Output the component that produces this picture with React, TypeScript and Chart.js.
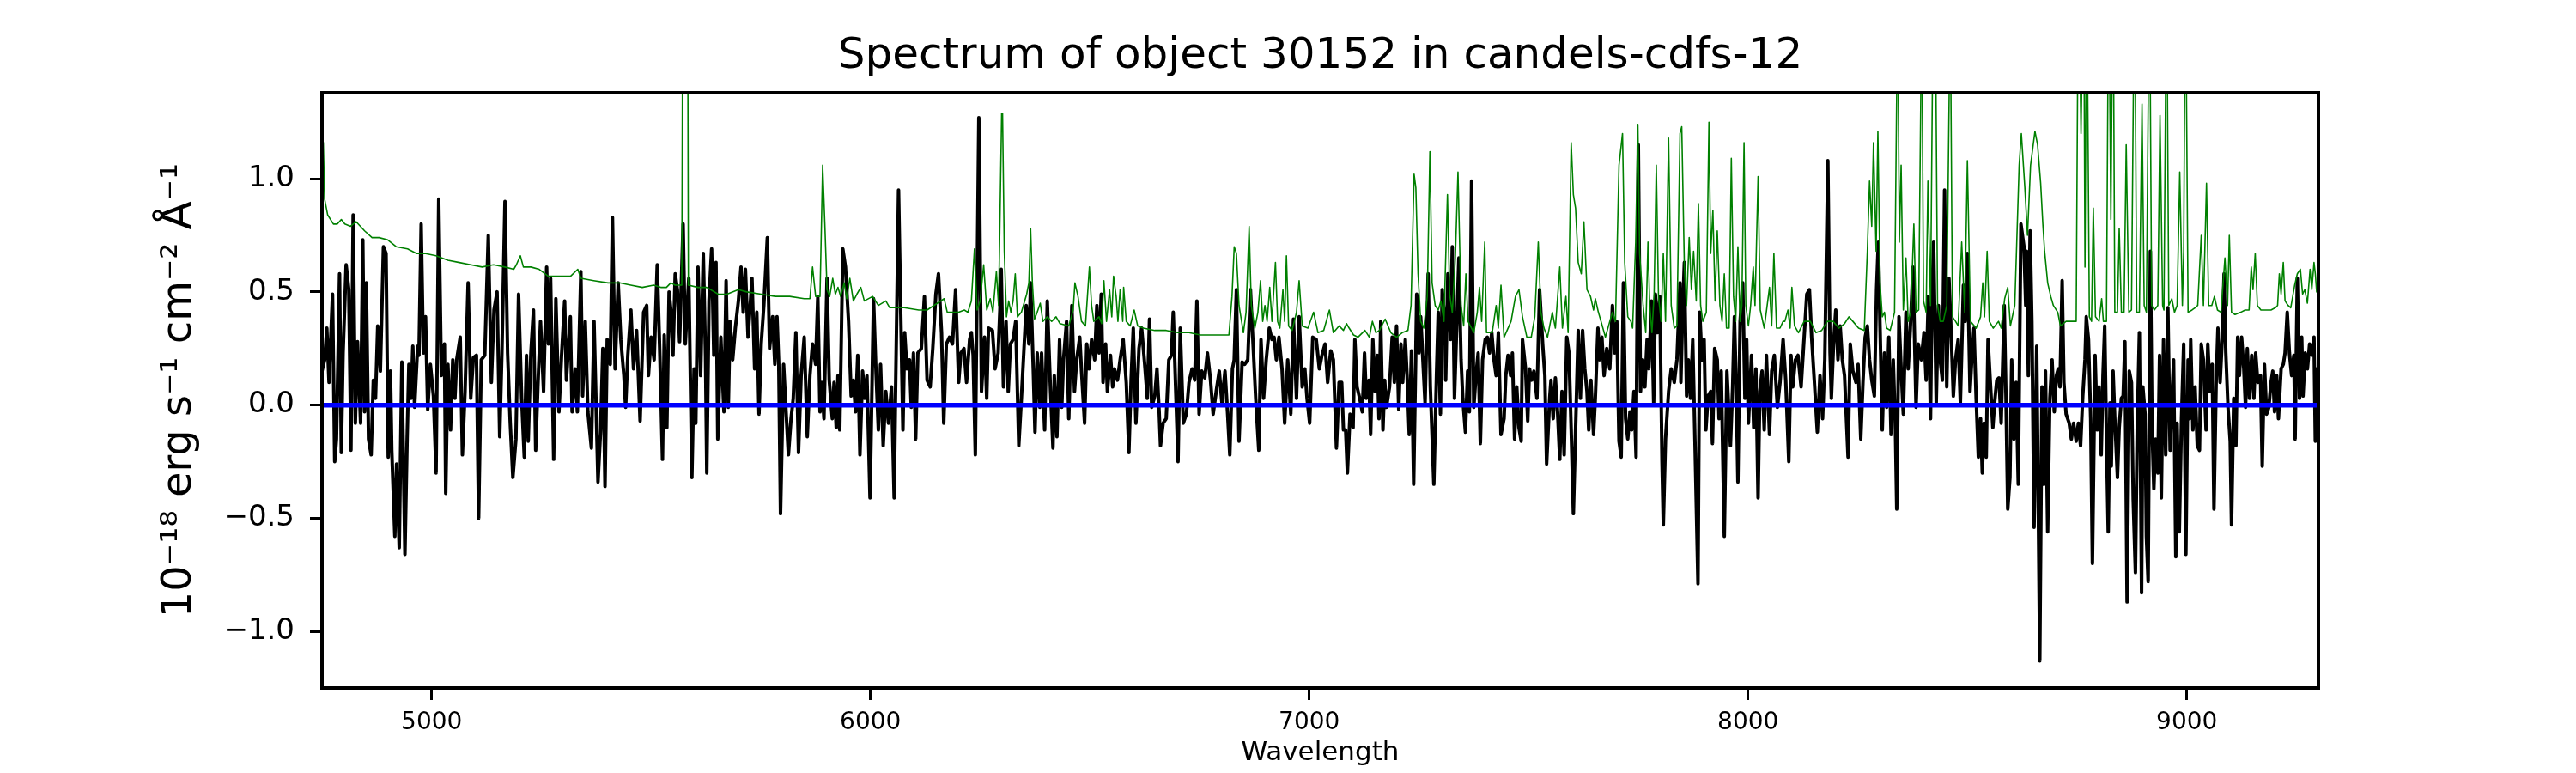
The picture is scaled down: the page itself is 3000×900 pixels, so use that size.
import React, { useEffect, useRef } from "react";
import { Chart, registerables } from "chart.js";

Chart.register(...registerables);

const FONT = '"DejaVu Sans", sans-serif';

const TITLE = "Spectrum of object 30152 in candels-cdfs-12";
const X_LABEL = "Wavelength";
const Y_LABEL = "10\u207B\u00B9\u2078 erg s\u207B\u00B9 cm\u207B\u00B2 \u00C5\u207B\u00B9";

const X_TICKS = [5000, 6000, 7000, 8000, 9000];
const Y_TICKS = [-1.0, -0.5, 0.0, 0.5, 1.0];
const X_RANGE = [4750, 9300];
const Y_RANGE = [-1.25, 1.38];

const ZERO_LINE: [number, number][] = [[4750, 0], [9300, 0]];

// observed flux (black)
const FLUX: [number, number][] = [
  [4750,0.15],[4756,0.20],[4761,0.34],[4766,0.10],[4774,0.49],[4779,-0.25],[4783,-0.15],[4790,0.58],[4794,-0.21],[4798,0.23],
  [4805,0.62],[4811,0.51],[4816,-0.20],[4821,0.84],[4826,-0.08],[4831,0.28],[4838,-0.08],[4843,0.73],[4847,-0.03],[4851,0.54],
  [4856,-0.15],[4862,-0.22],[4867,0.11],[4872,0.03],[4877,0.35],[4883,0.15],[4890,0.70],[4896,0.67],[4901,-0.23],[4906,0.15],
  [4909,-0.20],[4916,-0.58],[4920,-0.26],[4926,-0.63],[4932,0.19],[4939,-0.66],[4944,-0.15],[4948,0.18],[4953,0.03],[4957,0.26],
  [4961,-0.01],[4968,0.26],[4971,0.22],[4976,0.80],[4981,0.23],[4986,0.39],[4991,-0.02],[4997,0.18],[5004,0.04],[5010,-0.30],
  [5016,0.91],[5022,0.13],[5029,0.27],[5032,-0.39],[5037,0.18],[5043,-0.11],[5048,0.20],[5053,0.03],[5057,0.20],[5065,0.30],
  [5070,-0.22],[5076,0.06],[5083,0.54],[5089,0.03],[5095,0.21],[5102,0.22],[5107,-0.50],[5113,0.20],[5121,0.22],[5129,0.75],
  [5136,0.10],[5142,0.42],[5149,0.50],[5155,-0.14],[5160,0.23],[5167,0.90],[5173,0.23],[5179,-0.08],[5185,-0.32],[5192,-0.15],
  [5198,0.49],[5205,0.03],[5211,-0.23],[5216,0.22],[5220,-0.16],[5226,0.23],[5232,0.42],[5237,-0.20],[5242,0.08],[5248,0.37],
  [5255,0.06],[5262,0.61],[5266,0.27],[5271,0.56],[5278,-0.24],[5283,0.47],[5290,-0.03],[5296,0.22],[5303,0.46],[5307,0.11],
  [5316,0.39],[5320,-0.03],[5327,0.16],[5332,-0.03],[5340,0.59],[5344,0.04],[5350,0.37],[5356,-0.03],[5364,-0.19],[5370,0.37],
  [5379,-0.34],[5385,-0.11],[5390,0.25],[5395,-0.36],[5400,0.29],[5407,0.18],[5412,0.83],[5418,0.16],[5425,0.54],[5431,0.29],
  [5438,0.13],[5442,-0.01],[5447,0.22],[5454,0.42],[5460,0.16],[5467,0.33],[5475,-0.07],[5483,0.41],[5490,0.44],[5494,0.13],
  [5500,0.30],[5507,0.20],[5514,0.62],[5520,0.22],[5526,-0.24],
  [5530,0.31],[5536,-0.10],[5541,0.50],[5545,0.42],[5550,0.22],[5555,0.58],[5560,0.51],[5565,0.28],[5573,0.80],[5578,0.27],
  [5586,0.56],[5593,-0.32],[5598,0.16],[5602,-0.08],[5607,0.61],[5613,0.13],[5619,0.67],[5624,0.22],[5627,-0.30],[5632,0.46],
  [5638,0.69],[5643,0.22],[5648,0.63],[5652,-0.15],[5659,0.30],[5666,-0.03],[5671,0.55],[5676,-0.01],[5680,0.37],[5686,0.20],
  [5692,0.34],[5699,0.46],[5705,0.61],[5710,0.41],[5715,0.60],[5721,0.30],[5730,0.56],[5736,0.16],[5741,0.41],[5746,-0.04],
  [5751,0.27],[5757,0.44],[5765,0.74],[5770,0.25],[5777,0.39],[5782,0.18],[5787,0.39],[5791,0.18],[5795,-0.48],[5802,0.18],
  [5806,0.03],[5813,-0.22],[5819,-0.06],[5824,0.03],[5830,0.32],[5836,-0.21],[5842,0.13],[5849,0.30],[5856,-0.14],[5862,0.13],
  [5868,0.27],[5875,0.18],[5880,0.48],[5885,-0.03],[5889,0.10],[5894,-0.06],[5901,0.56],[5906,0.11],[5913,-0.06],[5917,0.10],
  [5922,-0.10],[5926,0.13],[5930,-0.11],[5937,0.69],[5943,0.61],[5950,0.37],[5956,0.04],[5961,0.11],[5966,-0.03],[5971,0.22],
  [5976,-0.22],[5982,0.15],[5987,0.03],[5992,0.13],[5999,-0.41],[6007,0.47],[6012,0.18],[6018,-0.11],[6023,0.18],[6029,-0.18],
  [6035,0.06],[6041,-0.08],[6048,0.08],[6054,-0.41],[6057,0.03],[6064,0.95],[6069,0.41],[6074,-0.11],[6078,0.32],[6083,0.16],
  [6089,0.20],[6093,-0.01],[6098,0.23],[6103,-0.15],[6108,0.23],[6116,0.25],[6123,0.48],[6129,0.11],[6136,0.08],[6142,0.25],
  [6149,0.49],[6155,0.58],[6162,0.32],[6167,-0.08],[6173,0.27],[6180,0.30],[6187,0.27],[6194,0.51],[6201,0.10],[6206,0.23],
  [6213,0.25],[6219,0.10],[6226,0.29],[6230,0.32],[6234,0.22],[6239,-0.22],[6247,1.27],[6253,0.06],[6260,0.30],[6265,0.03],
  [6269,0.34],[6278,0.33],[6284,0.16],[6291,0.23],[6295,0.42],
  [6298,0.60],[6303,0.08],[6309,0.37],[6314,0.06],[6319,0.27],[6325,0.29],[6331,0.37],[6338,-0.18],[6344,0.03],[6351,0.29],
  [6355,0.44],[6361,0.27],[6365,0.54],[6371,0.16],[6375,-0.12],[6380,0.23],[6386,-0.01],[6390,0.23],[6397,-0.11],[6403,0.46],
  [6410,0.08],[6416,-0.19],[6419,0.13],[6425,-0.14],[6431,0.29],[6436,-0.01],[6440,0.20],[6447,0.37],[6452,-0.06],[6459,0.44],
  [6465,0.06],[6470,0.20],[6477,0.30],[6481,0.15],[6488,-0.08],[6493,0.27],[6498,0.16],[6504,0.29],[6511,0.20],[6516,0.44],
  [6521,0.23],[6526,0.49],[6530,0.10],[6536,0.27],[6540,0.06],[6547,0.22],[6552,0.08],[6556,0.16],[6563,0.11],[6569,0.20],
  [6576,0.29],[6583,0.10],[6589,-0.21],[6594,0.11],[6599,0.34],[6605,-0.08],[6612,0.25],[6618,0.34],[6625,0.18],[6631,0.03],
  [6636,0.38],[6641,-0.01],[6648,0.04],[6653,0.16],[6658,-0.03],[6661,-0.18],[6667,-0.08],[6674,-0.06],[6680,0.20],[6686,0.22],
  [6690,0.41],[6695,0.11],[6701,-0.25],[6706,0.34],[6713,-0.08],[6720,-0.04],[6726,0.10],[6733,0.16],[6739,0.11],[6744,0.46],
  [6749,-0.04],[6755,0.15],[6762,0.12],[6768,0.23],[6775,0.11],[6781,-0.04],[6788,0.06],[6795,0.15],[6801,0.01],[6808,0.15],
  [6814,-0.04],[6819,-0.22],[6825,0.16],[6829,0.20],[6834,0.51],[6840,-0.16],[6847,0.19],[6853,0.18],[6860,0.20],[6866,0.51],
  [6873,0.23],[6878,0.03],[6885,-0.20],[6890,0.29],[6896,0.03],[6902,0.20],[6909,0.34],[6915,0.29],[6920,0.30],[6925,0.20],
  [6931,0.30],[6938,0.16],[6944,-0.08],[6951,0.20],[6958,-0.04],[6964,0.38],[6971,0.03],[6977,0.39],[6984,0.08],[6990,0.16],
  [6995,0.03],[7001,-0.08],[7008,0.30],[7016,0.29],[7023,0.16],[7029,0.22],[7036,0.27],[7042,0.10],[7049,0.24],[7055,0.20],
  [7062,-0.19],[7068,0.10],
  [7074,0.10],[7078,-0.11],[7083,-0.11],[7087,-0.30],[7093,-0.04],[7100,-0.10],[7104,0.29],[7109,0.08],[7115,0.03],[7121,-0.03],
  [7126,0.23],[7130,0.03],[7136,0.11],[7140,-0.13],[7145,0.29],[7150,0.06],[7155,0.22],[7159,-0.06],[7163,0.37],[7168,-0.11],
  [7172,0.11],[7176,-0.01],[7183,0.08],[7189,0.30],[7194,0.10],[7199,0.35],[7204,-0.02],[7209,0.27],[7213,0.10],[7219,0.29],
  [7223,0.13],[7228,-0.13],[7233,0.24],[7238,-0.35],[7245,0.49],[7250,0.23],[7254,0.39],[7259,0.20],[7264,0.01],[7271,0.58],
  [7276,0.08],[7284,-0.35],[7290,0.13],[7294,0.41],[7299,-0.04],[7303,0.51],[7309,0.37],[7311,0.11],[7316,0.58],[7322,0.29],
  [7326,0.70],[7331,0.03],[7336,0.34],[7341,0.65],[7346,0.20],[7350,0.03],[7356,-0.12],[7361,0.15],[7365,-0.03],[7370,0.99],
  [7375,-0.01],[7380,0.13],[7385,0.23],[7390,-0.17],[7395,0.20],[7401,0.29],[7406,0.30],[7411,0.23],[7416,0.32],[7421,0.20],
  [7426,0.13],[7431,0.32],[7437,-0.13],[7444,-0.06],[7448,0.13],[7453,0.22],[7459,0.13],[7463,0.23],[7468,-0.15],[7473,0.08],
  [7478,-0.10],[7483,-0.16],[7486,0.29],[7493,0.16],[7498,-0.07],[7502,0.16],[7507,0.11],[7512,0.15],[7519,0.03],[7525,0.51],
  [7532,0.27],[7537,0.13],[7541,-0.26],[7548,0.03],[7551,0.11],[7556,-0.06],[7561,0.12],[7566,-0.03],[7571,-0.24],[7576,0.06],
  [7581,-0.22],[7587,0.30],[7592,0.23],[7597,-0.11],[7602,-0.48],[7607,-0.11],[7613,0.33],[7618,0.03],[7623,0.33],[7628,0.16],
  [7633,0.06],[7637,-0.11],[7642,0.11],[7648,-0.13],[7652,0.03],[7658,0.34],[7662,0.20],[7667,0.30],[7672,0.13],[7678,0.25],
  [7685,0.16],[7691,0.44],[7696,0.23],[7701,0.37],[7706,-0.16],[7711,-0.23],[7716,0.54],[7721,-0.06],[7726,-0.15],[7731,-0.03],
  [7735,-0.11],[7740,0.06],[7745,-0.23],[7750,1.15],[7755,0.06],[7760,0.20],[7765,0.08],[7770,0.29],[7774,0.16],[7780,0.46],
  [7785,0.01],[7789,0.49],[7794,0.32],[7799,0.48],[7804,-0.25],[7807,-0.53],[7812,-0.15],[7819,0.06],[7825,0.16],[7832,0.10],
  [7838,0.20],[7845,0.54],
  [7847,0.10],[7851,0.41],[7855,0.63],[7860,0.04],[7864,0.20],[7869,0.03],[7874,0.29],[7879,-0.15],[7886,-0.79],[7890,0.41],
  [7895,0.20],[7900,0.29],[7904,-0.11],[7909,0.04],[7915,0.06],[7919,-0.17],[7924,0.25],[7930,0.20],[7934,-0.06],[7939,0.15],
  [7946,-0.58],[7952,0.15],[7960,-0.18],[7965,0.08],[7969,0.39],[7973,0.10],[7977,-0.34],[7982,0.37],[7988,0.54],[7993,0.03],
  [7997,0.29],[8001,-0.08],[8008,0.22],[8013,-0.10],[8018,0.16],[8023,-0.41],[8027,0.06],[8032,0.15],[8037,-0.11],[8042,0.22],
  [8049,-0.13],[8054,0.15],[8060,0.22],[8067,-0.01],[8073,0.10],[8080,0.29],[8086,0.11],[8093,-0.25],[8098,0.22],[8102,0.08],
  [8108,0.20],[8114,0.22],[8121,0.08],[8127,0.27],[8134,0.49],[8140,0.51],[8145,0.30],[8151,0.11],[8158,-0.12],[8164,0.13],
  [8170,-0.06],[8175,0.20],[8182,1.08],[8187,0.23],[8190,0.03],[8195,0.27],[8200,0.42],[8205,0.20],[8210,0.35],[8215,0.20],
  [8220,0.13],[8228,-0.23],[8233,0.27],[8239,0.15],[8246,0.10],[8251,0.18],[8257,-0.15],[8262,0.10],[8267,0.30],[8272,0.35],
  [8277,0.20],[8282,0.11],[8288,0.04],[8293,0.51],[8297,0.72],[8301,0.34],[8306,-0.11],[8311,0.23],[8316,-0.01],[8321,0.30],
  [8326,-0.13],[8331,0.20],[8336,-0.11],[8339,-0.46],[8344,0.39],[8349,0.16],[8354,-0.04],[8360,0.41],[8365,0.16],[8370,0.34],
  [8376,0.61],[8383,-0.01],[8388,0.27],[8395,0.20],[8401,0.32],[8406,0.11],[8411,0.48],[8416,-0.06],[8419,0.44],[8423,0.72],
  [8429,0.01],[8434,0.44],[8438,0.20],[8443,0.11],[8448,0.95],[8453,0.08],[8458,0.56],[8462,0.37],[8468,0.04],[8473,0.20],
  [8479,0.29],[8484,0.01],[8491,0.53],[8495,0.37],[8500,0.67],[8506,0.06],[8510,0.20],[8515,0.34],[8520,0.03],[8525,-0.23],
  [8530,-0.06],[8534,-0.30],[8538,-0.08],[8543,-0.23],[8547,0.29],[8552,0.11],[8558,-0.10],[8562,0.01],[8567,0.11],[8572,0.12],
  [8577,-0.08],[8584,0.44],[8588,0.03],[8592,-0.46],[8597,-0.32],[8601,0.20],[8606,-0.15],[8611,0.10],[8616,-0.35],[8622,0.80],
  [8629,0.70],[8633,0.44],[8635,0.68],[8639,0.13],[8643,0.77],[8647,0.37],[8652,-0.54],[8658,0.26],[8661,-0.32],[8665,-1.13],
  [8670,0.08],[8675,-0.35],[8678,0.15],[8683,-0.56],[8688,0.03],[8693,0.20],[8698,-0.03],[8703,0.13],[8707,0.16],[8711,0.08],
  [8716,0.55],[8720,0.10],[8725,-0.04],[8732,-0.08],[8737,-0.15],[8742,-0.08],[8748,-0.16],[8753,-0.08],[8758,-0.18],[8763,0.04],
  [8768,0.20],[8771,0.39],[8776,0.29],[8781,-0.06],[8785,-0.70],[8791,0.22],[8796,-0.11],[8800,0.08],[8805,-0.22],[8809,0.13],
  [8813,0.35],[8817,-0.15],[8821,-0.56],[8825,0.01],[8828,-0.27],[8832,0.15],[8836,-0.06],[8842,-0.32],[8846,-0.10],[8851,0.03],
  [8855,0.04],[8859,0.28],[8864,-0.87],[8869,0.15],[8874,0.10],[8878,-0.42],[8883,-0.74],[8887,-0.11],[8892,0.32],[8897,-0.83],
  [8900,0.08],[8905,-0.04],[8908,-0.58],[8912,-0.78],[8917,0.68],[8921,-0.11],[8925,-0.37],[8929,-0.15],[8934,-0.30],[8938,0.22],
  [8942,-0.41],[8947,0.29],[8952,-0.22],[8957,0.43],[8962,-0.20],[8967,0.06],[8970,0.20],[8975,-0.67],[8978,-0.08],[8983,-0.56],
  [8988,-0.06],[8993,0.27],[8998,-0.66],[9003,0.20],[9006,-0.06],[9009,0.29],[9014,-0.11],[9019,0.08],[9024,-0.18],[9029,-0.20],
  [9033,0.27],[9038,0.20],[9044,-0.11],[9048,0.27],[9053,0.06],[9058,0.18],[9062,-0.46],[9067,0.10],[9071,0.34],[9076,0.10],
  [9081,0.30],[9085,0.58],[9089,0.23],[9094,-0.01],[9099,-0.16],[9102,-0.53],[9107,0.03],[9112,-0.18],[9116,0.30],[9120,0.13],
  [9125,0.30],[9130,0.16],[9134,-0.01],[9138,0.25],[9143,0.03],[9148,0.22],[9153,0.03],[9157,0.23],[9162,0.10],[9168,0.13],
  [9172,-0.27],[9177,0.18],[9182,-0.04],[9187,-0.01],[9192,0.10],[9196,0.15],[9200,-0.03],[9205,0.13],[9209,-0.06],[9215,0.16],
  [9220,0.18],[9224,0.23],[9229,0.41],[9234,0.23],[9239,0.13],[9244,0.22],[9247,-0.15],[9252,0.56],[9257,0.03],[9262,0.30],
  [9265,0.04],[9270,0.23],[9275,0.16],[9280,0.27],[9285,0.22],[9290,0.30],[9293,-0.16],[9296,0.16],[9300,-0.17],
];

// noise / error spectrum (green)
const NOISE: [number, number][] = [
  [4750,1.17],[4753,1.16],[4756,0.91],[4763,0.84],[4776,0.80],[4785,0.80],[4794,0.82],[4802,0.80],[4815,0.79],[4828,0.81],
  [4847,0.77],[4864,0.74],[4880,0.74],[4900,0.73],[4919,0.70],[4945,0.69],[4965,0.67],[4984,0.67],[5010,0.66],[5037,0.64],
  [5063,0.63],[5089,0.62],[5115,0.61],[5141,0.62],[5167,0.61],[5187,0.60],[5193,0.62],[5202,0.66],[5209,0.61],[5226,0.61],
  [5245,0.60],[5265,0.57],[5291,0.57],[5317,0.57],[5333,0.60],[5340,0.56],[5369,0.55],[5402,0.54],[5428,0.54],[5454,0.53],
  [5480,0.52],[5506,0.53],[5522,0.52],[5535,0.52],[5545,0.54],[5555,0.53],[5570,0.53],[5574,3.0],[5582,3.0],[5585,0.53],
  [5607,0.52],[5627,0.52],[5653,0.49],[5673,0.49],[5699,0.51],[5718,0.50],[5751,0.49],[5783,0.48],[5816,0.48],[5849,0.47],
  [5862,0.47],[5868,0.61],[5875,0.48],[5885,0.48],[5891,1.06],[5896,0.80],[5901,0.51],[5907,0.48],[5914,0.56],[5920,0.49],
  [5926,0.52],[5932,0.48],[5940,0.54],[5946,0.47],[5953,0.56],[5961,0.46],[5969,0.49],[5978,0.52],[5986,0.46],[6005,0.48],
  [6018,0.44],[6035,0.46],[6044,0.43],[6077,0.43],[6110,0.42],[6129,0.42],[6168,0.47],[6175,0.41],[6201,0.41],[6214,0.42],
  [6222,0.41],[6230,0.46],[6237,0.69],[6243,0.42],[6250,0.46],[6258,0.62],[6265,0.42],[6273,0.47],[6279,0.41],[6287,0.59],
  [6292,0.44],[6299,1.29],[6301,1.29],[6305,0.68],[6310,0.39],[6315,0.46],[6320,0.41],[6325,0.46],[6330,0.58],[6335,0.39],
  [6344,0.41],[6356,0.49],[6361,0.54],[6365,0.78],[6369,0.54],[6374,0.38],[6380,0.41],[6387,0.45],[6393,0.37],[6403,0.39],
  [6413,0.37],[6423,0.39],[6432,0.36],[6452,0.35],[6462,0.42],[6466,0.54],[6473,0.48],[6481,0.37],[6490,0.35],[6499,0.61],
  [6504,0.44],[6509,0.37],[6521,0.39],[6527,0.36],[6532,0.55],[6538,0.37],[6545,0.51],[6550,0.39],[6554,0.57],[6560,0.48],
  [6564,0.37],[6569,0.51],[6575,0.37],[6577,0.52],[6583,0.37],[6592,0.35],[6601,0.42],[6609,0.35],[6622,0.34],[6648,0.33],
  [6674,0.33],[6700,0.32],[6726,0.32],[6752,0.31],[6785,0.31],[6817,0.31],[6824,0.48],[6829,0.70],[6834,0.67],[6840,0.44],
  [6850,0.32],[6856,0.41],[6863,0.79],[6868,0.44],[6876,0.34],[6883,0.41],[6889,0.55],[6894,0.37],[6899,0.44],[6904,0.37],
  [6910,0.52],[6915,0.37],[6923,0.63],[6928,0.37],[6933,0.34],[6940,0.51],[6944,0.37],[6948,0.66],[6953,0.35],[6961,0.33],
  [6971,0.41],[6977,0.55],[6984,0.35],[6997,0.34],[7010,0.41],[7020,0.32],[7033,0.33],[7046,0.42],[7055,0.32],[7068,0.35],
  [7078,0.33],[7085,0.36],[7091,0.34],[7101,0.31],[7111,0.30],[7127,0.33],[7137,0.30],[7144,0.37],[7152,0.32],[7160,0.33],
  [7173,0.38],[7186,0.32],[7199,0.30],[7212,0.32],[7225,0.33],[7232,0.44],[7239,1.02],[7243,0.96],[7248,0.58],[7254,0.37],
  [7261,0.34],[7269,0.48],[7275,1.12],[7280,0.54],[7287,0.44],[7294,0.42],[7300,0.46],[7307,0.37],[7315,0.93],[7320,0.49],
  [7326,0.41],[7333,0.65],[7339,1.03],[7346,0.44],[7352,0.35],[7357,0.58],[7362,0.37],[7375,0.32],[7383,0.41],[7388,0.52],
  [7393,0.37],[7400,0.72],[7404,0.32],[7417,0.32],[7426,0.44],[7431,0.34],[7437,0.53],[7444,0.30],[7460,0.37],[7470,0.48],
  [7478,0.51],[7486,0.39],[7496,0.30],[7506,0.30],[7514,0.39],[7522,0.72],[7528,0.41],[7535,0.34],[7543,0.30],[7554,0.41],
  [7561,0.34],[7571,0.61],[7577,0.34],[7585,0.48],[7590,0.32],[7597,1.16],[7602,0.93],[7607,0.87],[7613,0.63],[7620,0.58],
  [7626,0.81],[7633,0.51],[7641,0.48],[7648,0.42],[7652,0.47],[7659,0.41],[7665,0.37],[7675,0.30],[7685,0.37],[7691,0.41],
  [7698,0.37],[7706,1.06],[7714,1.20],[7719,0.63],[7726,0.39],[7733,0.37],[7737,0.34],[7744,0.72],[7749,1.24],[7753,0.67],
  [7761,0.44],[7767,0.32],[7772,0.72],[7776,0.44],[7781,0.32],[7786,0.49],[7791,1.06],[7796,0.48],[7802,0.37],[7807,0.67],
  [7812,0.37],[7819,1.18],[7825,0.44],[7832,0.34],[7838,0.35],[7845,1.20],[7849,1.23],[7855,0.61],[7860,0.44],[7866,0.74],
  [7871,0.51],[7876,0.68],[7882,0.46],[7887,0.89],[7892,0.44],[7897,0.37],[7905,0.41],[7911,1.25],[7915,0.67],[7920,0.86],
  [7925,0.46],[7930,0.77],[7936,0.44],[7941,0.37],[7946,0.58],[7951,0.34],[7957,0.34],[7962,1.09],[7967,0.48],[7972,0.37],
  [7977,0.70],[7982,0.37],[7986,0.44],[7991,1.16],[7995,0.44],[8001,0.35],[8006,0.44],[8012,0.61],[8016,0.44],[8023,1.01],
  [8028,0.42],[8037,0.34],[8049,0.52],[8054,0.35],[8059,0.67],[8065,0.34],[8073,0.34],[8080,0.37],[8084,0.37],[8091,0.42],
  [8096,0.34],[8100,0.52],[8106,0.35],[8115,0.32],[8128,0.37],[8142,0.37],[8155,0.32],[8168,0.33],[8181,0.37],[8194,0.37],
  [8207,0.34],[8220,0.36],[8230,0.39],[8239,0.37],[8252,0.34],[8265,0.33],[8272,0.68],[8277,0.99],[8282,0.79],[8286,1.16],
  [8292,0.68],[8296,1.21],[8301,0.54],[8306,0.39],[8311,0.41],[8316,0.34],[8324,0.33],[8334,0.41],[8341,1.8],[8345,0.72],
  [8349,1.06],[8354,0.42],[8360,0.65],[8365,0.37],[8371,0.41],[8378,0.80],[8383,0.41],[8389,0.42],[8396,1.8],[8400,0.46],
  [8406,0.41],[8410,0.99],[8416,0.44],[8422,1.8],[8427,1.8],[8432,0.44],[8438,0.37],[8445,0.37],[8453,0.44],[8461,1.8],
  [8466,0.39],[8473,0.37],[8479,0.35],[8487,0.72],[8494,0.41],[8500,1.08],[8507,0.37],[8520,0.34],[8530,0.39],[8535,0.54],
  [8539,0.39],[8545,0.68],[8550,0.37],[8559,0.34],[8571,0.37],[8577,0.34],[8585,0.47],[8592,0.52],[8598,0.35],[8608,0.44],
  [8618,1.06],[8623,1.20],[8631,0.96],[8637,0.75],[8644,1.06],[8654,1.21],[8660,1.15],[8667,0.98],[8672,0.80],[8676,0.68],
  [8683,0.54],[8690,0.48],[8696,0.44],[8706,0.41],[8712,0.35],[8725,0.37],[8738,0.37],[8748,0.37],[8753,2.0],[8759,1.20],
  [8765,2.0],[8768,0.61],[8772,2.0],[8778,0.39],[8783,0.37],[8787,0.87],[8792,0.39],[8800,0.37],[8806,0.47],[8810,0.37],
  [8817,0.37],[8822,2.0],[8827,0.82],[8832,2.0],[8836,0.41],[8842,0.41],[8846,0.78],[8851,0.41],[8857,0.41],[8862,1.15],
  [8868,0.41],[8874,0.42],[8881,2.0],[8886,0.41],[8892,0.41],[8898,1.33],[8903,0.44],[8908,0.41],[8915,2.0],[8920,0.44],
  [8926,0.42],[8934,0.44],[8939,1.28],[8945,0.44],[8948,0.42],[8954,2.0],[8959,0.44],[8966,0.47],[8972,0.41],[8978,0.44],
  [8984,1.03],[8990,0.44],[8993,0.68],[8997,2.0],[9003,0.41],[9012,0.42],[9019,0.43],[9025,0.44],[9033,0.75],[9038,0.44],
  [9045,0.98],[9050,0.44],[9057,0.44],[9063,0.48],[9070,0.42],[9078,0.41],[9087,0.65],[9093,0.44],[9097,0.75],[9102,0.41],
  [9110,0.40],[9123,0.41],[9133,0.42],[9142,0.42],[9147,0.61],[9151,0.51],[9156,0.67],[9161,0.44],[9169,0.42],[9182,0.42],
  [9192,0.42],[9202,0.43],[9207,0.44],[9211,0.58],[9215,0.49],[9220,0.63],[9224,0.46],[9231,0.44],[9237,0.43],[9246,0.53],
  [9252,0.58],[9259,0.60],[9264,0.49],[9269,0.51],[9275,0.45],[9281,0.60],[9285,0.51],[9290,0.63],[9293,0.58],[9296,0.50],
  [9300,0.52],
];

const toXY = (pts: [number, number][]) => pts.map(([x, y]) => ({ x, y }));

const framePlugin = {
  id: "frame",
  afterDraw(chart: any) {
    const { ctx, chartArea } = chart;
    const { left, top, right, bottom } = chartArea;
    ctx.save();
    ctx.strokeStyle = "#000";
    ctx.lineWidth = 4;
    ctx.strokeRect(left, top, right - left, bottom - top);
    ctx.restore();
  },
};

export default function App() {
  const ref = useRef<HTMLCanvasElement>(null);

  useEffect(() => {
    document.body.style.margin = "0";
    const canvas = ref.current;
    if (!canvas) return;
    const chart = new Chart(canvas, {
      type: "line",
      data: {
        datasets: [
          {
            label: "zero",
            data: toXY(ZERO_LINE),
            borderColor: "#0000ff",
            borderWidth: 5.5,
            pointRadius: 0,
          },
          {
            label: "noise",
            data: toXY(NOISE),
            borderColor: "#008000",
            borderWidth: 1.6,
            pointRadius: 0,
            borderJoinStyle: "round",
          },
          {
            label: "flux",
            data: toXY(FLUX),
            borderColor: "#000000",
            borderWidth: 4,
            pointRadius: 0,
            borderJoinStyle: "round",
          },
        ],
      },
      options: {
        animation: false,
        responsive: false,
        devicePixelRatio: 1,
        events: [],
        layout: { autoPadding: false, padding: { left: 0, right: 300, top: 0, bottom: 0 } },
        plugins: {
          legend: { display: false },
          tooltip: { enabled: false },
          title: {
            display: true,
            text: TITLE,
            fullSize: false,
            color: "#000",
            font: { family: FONT, size: 50, weight: "normal", lineHeight: 1.2 },
            padding: { top: 36, bottom: 12 },
          },
        },
        scales: {
          x: {
            type: "linear",
            min: X_RANGE[0],
            max: X_RANGE[1],
            afterFit: (s: any) => {
              s.height = 99;
            },
            afterBuildTicks: (s: any) => {
              s.ticks = X_TICKS.map((v) => ({ value: v }));
            },
            border: { display: false },
            grid: {
              display: true,
              drawOnChartArea: false,
              drawTicks: true,
              tickLength: 14,
              tickWidth: 3,
              tickColor: "#000",
            },
            ticks: {
              color: "#000",
              font: { family: FONT, size: 28 },
              padding: 10,
              maxRotation: 0,
              autoSkip: false,
              callback: (v: any) => String(v),
            },
            title: {
              display: true,
              text: X_LABEL,
              color: "#000",
              font: { family: FONT, size: 31 },
              padding: { top: 0, bottom: 4 },
            },
          },
          y: {
            type: "linear",
            min: Y_RANGE[0],
            max: Y_RANGE[1],
            afterFit: (s: any) => {
              s.width = 375;
            },
            afterBuildTicks: (s: any) => {
              s.ticks = Y_TICKS.map((v) => ({ value: v }));
            },
            border: { display: false },
            grid: {
              display: true,
              drawOnChartArea: false,
              drawTicks: true,
              tickLength: 14,
              tickWidth: 3,
              tickColor: "#000",
            },
            ticks: {
              color: "#000",
              font: { family: FONT, size: 34 },
              padding: 18,
              autoSkip: false,
              callback: (v: any) => (v < 0 ? "\u2212" : "") + Math.abs(Number(v)).toFixed(1),
            },
            title: {
              display: true,
              text: Y_LABEL,
              color: "#000",
              font: { family: FONT, size: 48 },
              padding: { top: 181, bottom: 0 },
            },
          },
        },
      },
      plugins: [framePlugin],
    } as any);
    return () => chart.destroy();
  }, []);

  return (
    <div style={{ position: "absolute", left: 0, top: 0, width: 3000, height: 900, background: "#fff" }}>
      <canvas ref={ref} width={3000} height={900} style={{ width: 3000, height: 900, display: "block" }} />
    </div>
  );
}
